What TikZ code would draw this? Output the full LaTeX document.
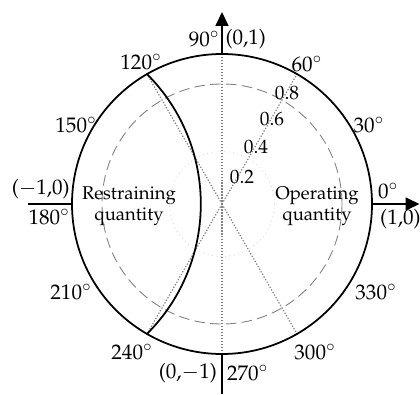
\documentclass[tikz,border=0pt]{standalone}
\usepackage[T1]{fontenc}
\usepackage{mathpazo}
\usetikzlibrary{arrows.meta}
\tikzset{
  bound/.style={line width=1pt},
  axisline/.style={line width=1pt},
  axisarrow/.style={axisline, -{Triangle[length=2.8mm, width=2.6mm]}},
  gridline/.style={gray, densely dotted, line width=0.7pt},
  ring/.style={gray, dash pattern=on 6pt off 3pt, line width=0.5pt},
  faintring/.style={gray!30, dotted, line width=0.5pt},
  anglabel/.style={font=\fontsize{12}{14}\selectfont, inner sep=1pt},
  radlabel/.style={font=\fontsize{11}{13}\selectfont, inner sep=0pt},
  region/.style={font=\fontsize{10.5}{12}\selectfont, align=center, inner sep=0pt},
}

\begin{document}
\begin{tikzpicture}
  \useasboundingbox (-4.44,-3.8) rectangle (3.96,4.08);

  % points on the unit circle (radius 3cm)
  \coordinate (O) at (0,0);
  \coordinate (N) at (90:3);
  \coordinate (S) at (270:3);
  \coordinate (E) at (0:3);
  \coordinate (W) at (180:3);
  \coordinate (A120) at (120:3);
  \coordinate (A240) at (240:3);
  \coordinate (Ntip) at (0,3.84);
  \coordinate (Send) at (0,-3.8);
  \coordinate (Etip) at (3.95,0);
  \coordinate (Wend) at (-3.88,0);

  % grid
  \draw[faintring] (O) circle[radius=1.05];
  \draw[ring] (O) circle[radius=2.4];
  \foreach \a in {60,120,240,300}
    \draw[gridline] (O) -- (\a:3);
  \draw[gridline] (S) -- (N);

  % boundary
  \draw[bound] (O) circle[radius=3];
  \draw[bound] (A120) arc[start angle=45, end angle=-45, radius=3.674];

  % axes
  \draw[axisarrow] (N) -- (Ntip);
  \draw[axisline] (S) -- (Send);
  \draw[axisarrow] (E) -- (Etip);
  \draw[axisline] (W) -- (Wend);

  % angle labels
  \node[anglabel, anchor=east] (l90) at (-0.01,3.3) {90$^\circ$};
  \node[anglabel, anchor=west] (p01) at (0.03,3.3) {(0,1)};
  \node[anglabel] (l120) at (-1.62,2.84) {120$^\circ$};
  \node[anglabel] (l60) at (1.70,2.80) {60$^\circ$};
  \node[anglabel] (l150) at (-2.92,1.58) {150$^\circ$};
  \node[anglabel] (l30) at (2.94,1.58) {30$^\circ$};
  \node[anglabel, anchor=south east, inner sep=0.5pt] (pm10) at (-3.02,0.08) {($-1$,0)};
  \node[anglabel, anchor=north east, inner sep=0.5pt] (l180) at (-3.02,-0.08) {180$^\circ$};
  \node[anglabel, anchor=south west, inner sep=0.5pt] (l0) at (3.1,0.08) {0$^\circ$};
  \node[anglabel, anchor=north west, inner sep=0.5pt] (p10) at (3.14,-0.08) {(1,0)};
  \node[anglabel] (l210) at (-3.02,-1.76) {210$^\circ$};
  \node[anglabel] (l330) at (3.08,-1.76) {330$^\circ$};
  \node[anglabel] (l240) at (-1.8,-2.96) {240$^\circ$};
  \node[anglabel] (l300) at (1.86,-2.96) {300$^\circ$};
  \node[anglabel, anchor=east] (p0m1) at (-0.06,-3.38) {(0,$-1$)};
  \node[anglabel, anchor=west] (l270) at (0.06,-3.38) {270$^\circ$};

  % radius labels
  \node[radlabel] (r2) at (0.40,0.54) {0.2};
  \node[radlabel] (r4) at (0.68,1.14) {0.4};
  \node[radlabel] (r6) at (1.00,1.70) {0.6};
  \node[radlabel] (r8) at (1.30,2.22) {0.8};

  % regions
  \node[region] (restrain) at (-1.86,-0.04) {Restraining\\quantity};
  \node[region] (operate) at (1.90,-0.04) {Operating\\quantity};
\end{tikzpicture}
\end{document}
